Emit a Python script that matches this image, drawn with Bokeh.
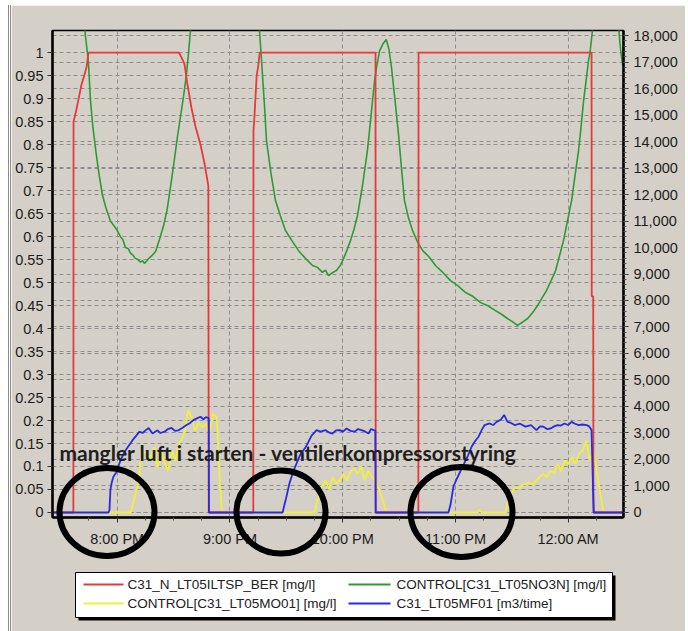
from bokeh.plotting import figure
from bokeh.models import (Range1d, LinearAxis, FixedTicker, NumeralTickFormatter, Grid)
from bokeh.core.properties import value
from bokeh.embed import file_html
from bokeh.resources import INLINE

# ---------------- data (time in minutes after 7:00 PM) ----------------
x_ticks = [60, 120, 180, 240, 300]
x_tick_labels = ["8:00 PM", "9:00 PM", "10:00 PM", "11:00 PM", "12:00 AM"]
x_minor = [30, 45, 75, 90, 105, 135, 150, 165, 195, 210, 225, 255, 270, 285, 315]
left_ticks = [0, 0.05, 0.1, 0.15, 0.2, 0.25, 0.3, 0.35, 0.4, 0.45, 0.5, 0.55,
              0.6, 0.65, 0.7, 0.75, 0.8, 0.85, 0.9, 0.95, 1]
right_ticks = [0, 1000, 2000, 3000, 4000, 5000, 6000, 7000, 8000, 9000, 10000,
               11000, 12000, 13000, 14000, 15000, 16000, 17000, 18000]

# C31_N_LT05ILTSP_BER [mg/l]  (left axis)
red_t = [25.6, 36.7, 36.8, 38.0, 39.5, 41.0, 42.5, 43.8, 44.7, 92.9, 94.7, 95.8,
         97.4, 99.5, 101.6, 104.3, 106.4, 108.5, 108.7, 132.4, 132.5, 133.0, 134.2,
         135.0, 135.8, 197.4, 197.5, 220.2, 220.3, 312.3, 312.4, 313.2, 313.3, 313.5, 329.3]
red_v = [0, 0, 0.85, 0.87, 0.90, 0.93, 0.95, 0.97, 1.0, 1.0, 0.985, 0.975,
         0.93, 0.88, 0.84, 0.80, 0.76, 0.71, 0, 0, 0.83, 0.86, 0.95,
         0.97, 1.0, 1.0, 0, 0, 1.0, 1.0, 0.47, 0.47, 0.05, 0, 0]

# CONTROL[C31_LT05NO3N] [mg/l]  (right axis)
green_t = [42.0, 43.1, 44.7, 45.8, 47.0, 48.9, 50.5, 52.1, 54.0, 56.4, 58.5, 60.0, 61.8,
           63.0, 64.4, 66.0, 67.0, 68.5, 69.5, 71.0, 72.4, 73.5, 74.5, 75.8, 77.0, 78.6,
           80.4, 82.5, 84.6, 86.5, 88.4, 90.2, 92.1, 93.8, 95.3, 96.8, 97.9, 99.0, 100.0,
           118.0,
           135.2, 135.7, 137.3, 138.4, 139.4, 141.8, 144.2, 146.8, 149.5, 153.0, 156.4,
           160.0, 163.9, 166.5, 169.2, 170.8, 172.4, 174.5, 176.6, 178.5, 180.4, 182.2,
           184.1, 186.0, 187.8, 189.2, 190.5, 191.8, 193.1, 194.2, 195.3, 196.9, 198.2,
           199.6, 201.5, 203.1, 204.5, 205.9, 207.8, 209.6, 211.2, 212.8, 215.0, 217.1,
           219.8, 222.4, 225.8, 229.3, 233.3, 237.3, 241.3, 245.3, 249.3, 253.3, 257.2,
           261.2, 264.4, 267.6, 270.2, 272.9, 275.6, 278.3, 281.0, 283.6, 286.0, 288.4,
           290.8, 293.2, 295.3, 297.4, 299.5, 301.7, 303.5, 305.4, 306.8, 308.1, 309.4,
           310.7, 311.5, 312.8, 313.5,
           320.0,
           326.2, 326.7, 327.7, 328.8, 329.3]
green_v = [19000, 18000, 17000, 15550, 14600, 13500, 12700, 12000, 11500, 11000, 10800, 10650, 10400,
           10300, 10000, 9950, 9800, 9700, 9600, 9550, 9450, 9500, 9400, 9500, 9600, 9700,
           9850, 10300, 10800, 11400, 12300, 13200, 14200, 15000, 15700, 16500, 17300, 18200, 19200,
           24000,
           19500, 18200, 16500, 15300, 14040, 12800, 11770, 11200, 10640, 10250, 9890,
           9600, 9320, 9250, 9060, 9150, 8940, 9050, 9130, 9300, 9580, 9900,
           10260, 10700, 11200, 11800, 12340, 13000, 13660, 14400, 15170, 16300, 16900,
           17430, 17700, 17850, 17500, 16800, 15550, 14300, 13000, 11770, 11100, 10640,
           10200, 9890, 9650, 9320, 9050, 8750, 8550, 8300, 8150, 7920, 7800,
           7620, 7480, 7320, 7200, 7060, 7180, 7320, 7550, 7810, 8100, 8380,
           8750, 9130, 9700, 10260, 11000, 11770, 12700, 13660, 14600, 15550, 16300,
           17060, 17360, 18200, 19000,
           23000,
           19000, 18300, 17500, 16900, 16800]

# CONTROL[C31_LT05MO01] [mg/l]  (left axis)
yellow_t = [25.6, 67.3, 69.1, 71.1, 73.0, 74.8, 77.7, 79.6, 81.5, 83.4, 85.3, 87.2, 89.1,
            91.0, 92.9, 95.7, 97.7, 99.6, 101.4, 103.4, 105.3, 107.2, 109.0, 111.0, 112.9,
            113.8, 114.7, 115.7,
            165.1, 166.1, 168.9, 170.8, 172.7, 174.6, 176.5, 178.4, 180.3, 182.2, 184.1,
            186.0, 187.9, 189.8, 191.7, 193.6, 195.5, 197.4, 199.3, 201.2, 203.1,
            251.5, 252.7, 253.9,
            266.5, 267.6, 269.6, 271.5, 273.4, 275.3, 277.2, 279.1, 281.0, 282.9, 284.8,
            286.7, 288.6, 290.5, 292.4, 294.3, 296.2, 298.1, 300.0, 301.9, 303.8, 305.7,
            307.6, 309.5, 311.4, 313.3, 315.0, 316.6, 318.7, 329.3]
yellow_v = [0, 0, 0.03, 0.062, 0.131, 0.131, 0.120, 0.142, 0.098, 0.131, 0.106, 0.091, 0.135,
            0.113, 0.149, 0.171, 0.222, 0.207, 0.178, 0.196, 0.185, 0.193, 0.171, 0.215, 0.207,
            0.135, 0.062, 0,
            0, 0.02, 0.057, 0.07, 0.05, 0.077, 0.063, 0.07, 0.084, 0.07, 0.088,
            0.097, 0.084, 0.10, 0.07, 0.091, 0.077, 0.07, 0.049, 0.027, 0,
            0, 0.006, 0,
            0, 0.02, 0.041, 0.055, 0.052, 0.059, 0.062, 0.066, 0.060, 0.070, 0.078,
            0.084, 0.077, 0.091, 0.085, 0.106, 0.091, 0.113, 0.105, 0.120, 0.106, 0.128,
            0.135, 0.156, 0.113, 0.135, 0.09, 0.05, 0, 0]

# C31_LT05MF01 [m3/time]  (right axis)
blue_t = [25.6, 55.4,
          55.9, 56.4, 57.0, 58.0, 59.6, 61.8, 64.4, 68.1, 71.9, 73.5, 75.1, 76.7, 78.8, 81.4,
          83.0, 85.2, 87.0, 88.9, 90.8, 92.6, 94.8, 96.9, 98.8, 100.6, 102.4, 104.3, 105.9,
          107.2, 108.7,
          108.8, 148.0,
          149.0, 149.8, 151.6, 153.5, 155.4, 157.5, 160.2, 163.4, 166.1, 168.2, 170.8, 172.6,
          174.5, 176.4, 178.3, 180.1, 182.0, 184.1, 186.2, 188.1, 190.0, 191.8, 193.7, 195.0,
          196.4, 197.3,
          197.5, 236.2,
          237.3, 238.9, 240.5, 242.1, 244.7, 246.6, 248.5, 250.4, 252.2, 253.8, 255.4, 258.1,
          260.0, 261.8, 264.0, 265.8, 267.6, 269.5, 271.4, 274.3, 277.2, 280.1, 283.0, 284.9,
          286.7, 288.6, 290.5, 292.4, 294.2, 296.0, 297.9, 299.8, 301.7, 303.5, 305.4, 307.5,
          309.7, 311.0, 312.3, 312.8,
          313.4, 329.3]
blue_v = [0, 0,
          100, 850, 1100, 1350, 1520, 1980, 2340, 2720, 3050, 3000, 3100, 3190, 2980, 3100,
          3000, 3050, 3150, 3190, 3080, 3100, 3200, 3300, 3380, 3490, 3550, 3615, 3520,
          3600, 3560,
          0, 0,
          300, 530, 1090, 1520, 1850, 2200, 2460, 2900, 3110, 3050, 3110, 3020,
          2980, 3100, 3110, 3050, 3170, 3080, 3050, 3150, 3110, 3060, 2980, 3150,
          3110, 3100,
          0, 0,
          300, 990, 1250, 1490, 1870, 2150, 2480, 2700, 2860, 3100, 3300, 3360,
          3300, 3420, 3500, 3680, 3420, 3380, 3300, 3350, 3240, 3300, 3110, 3250,
          3240, 3150, 3170, 3250, 3300, 3280, 3360, 3300, 3420, 3350, 3300, 3320,
          3300, 3250, 3110, 1700,
          0, 0]

series_labels = ["C31_N_LT05ILTSP_BER [mg/l]", "CONTROL[C31_LT05NO3N] [mg/l]",
                 "CONTROL[C31_LT05MO01] [mg/l]", "C31_LT05MF01 [m3/time]"]
annotation_text = "mangler luft i starten - ventilerkompressorstyring"

# ---------------- styling / layout ----------------
BG = "#d4d0c8"
GRID = "#8e8e8e"
RED, GREEN, YELLOW, BLUE = "#e43a3a", "#2f9a35", "#f0f03c", "#2a2ae0"
TICK_FONT = "Liberation Sans"

X0, X1 = 25.6, 329.3          # x range (minutes)
Y0, Y1 = -0.0109, 1.048       # left range
R0, R1 = -189, 18189          # right range
# frame position on the page (pixels) – used to place the legend outside the frame
FL, FR, FT, FB = 52, 623, 30, 517


def px_x(px):
    return X0 + (px - FL) * (X1 - X0) / (FR - FL)


def px_y(py):
    return Y1 - (py - FT) * (Y1 - Y0) / (FB - FT)


p = figure(width=677, height=626, output_backend="svg", toolbar_location=None,
           x_range=Range1d(X0, X1), y_range=Range1d(Y0, Y1),
           min_border_left=41, min_border_right=65, min_border_top=25, min_border_bottom=114,
           background_fill_color=BG, border_fill_color=BG,
           outline_line_color="black", outline_line_width=1.5)
p.extra_y_ranges = {"right": Range1d(R0, R1)}

# axes
xa = p.xaxis[0]
xa.ticker = FixedTicker(ticks=x_ticks, minor_ticks=x_minor)
xa.major_label_overrides = {t: l for t, l in zip(x_ticks, x_tick_labels)}
ya = p.yaxis[0]
ya.ticker = FixedTicker(ticks=left_ticks)
ya.formatter = NumeralTickFormatter(format="0.[00]")
ra = LinearAxis(y_range_name="right", ticker=FixedTicker(ticks=right_ticks,
                minor_ticks=list(range(0, 18200, 200))),
                formatter=NumeralTickFormatter(format="0,0"))
p.add_layout(ra, "right")

for ax in (xa, ya, ra):
    ax.axis_line_color = "black"
    ax.axis_line_width = 2.5
    ax.major_tick_line_color = "#333333"
    ax.minor_tick_line_color = "#555555"
    ax.major_tick_in = 0
    ax.minor_tick_in = 0
    ax.major_tick_out = 5
    ax.minor_tick_out = 3
    ax.major_label_text_font = TICK_FONT
    ax.major_label_text_font_size = "14.5px"
    ax.major_label_text_color = "#1c1c1c"
ya.minor_tick_line_color = None
xa.major_label_standoff = 8
ya.major_label_standoff = 4
ra.major_label_standoff = 5

# grids
p.xgrid.ticker = FixedTicker(ticks=x_ticks)
for g in (p.xgrid[0], p.ygrid[0]):
    g.grid_line_color = GRID
    g.grid_line_dash = "4 3"
    g.grid_line_width = 1
p.ygrid[0].ticker = FixedTicker(ticks=left_ticks)
rg = Grid(dimension=1, y_range_name="right", ticker=FixedTicker(ticks=right_ticks),
          grid_line_color=GRID, grid_line_dash="4 3", grid_line_width=1)
p.add_layout(rg)

# series
p.line(yellow_t, yellow_v, line_color=YELLOW, line_width=1.8)
p.line(green_t, green_v, y_range_name="right", line_color=GREEN, line_width=1.6)
p.line(red_t, red_v, line_color=RED, line_width=1.8)
p.line(blue_t, blue_v, y_range_name="right", line_color=BLUE, line_width=1.8)

# annotation text
p.text(x=[px_x(59)], y=[px_y(452)], text=[annotation_text], text_font=value("Lato"),
       text_font_style="bold", text_font_size="21px", text_color="#1e1e1e",
       text_baseline="alphabetic", text_align="left")

# hand-drawn circles marking the starts
p.ellipse(x=[px_x(106.5), px_x(280.5), px_x(461)], y=[px_y(511.5)] * 3,
          width=[95, 89, 102], height=[88, 83, 90],
          width_units="screen", height_units="screen",
          fill_alpha=0, line_color="black", line_width=6, level="overlay")

# legend box below the axis (drawn at overlay level so it is not clipped)
LB_L, LB_R, LB_T, LB_B = 75, 612, 572, 617
p.quad(left=[px_x(LB_L + 3)], right=[px_x(LB_R + 3)], top=[px_y(LB_T + 3)],
       bottom=[px_y(LB_B + 3)], fill_color="black", line_color=None, level="overlay")
p.quad(left=[px_x(LB_L)], right=[px_x(LB_R)], top=[px_y(LB_T)], bottom=[px_y(LB_B)],
       fill_color="white", line_color="black", line_width=1, level="overlay")
row_y = [584, 603]
col_x = [(83, 123, 127), (348, 390, 396)]
leg_colors = [RED, GREEN, YELLOW, BLUE]
for i, (lab, col) in enumerate(zip(series_labels, leg_colors)):
    r, c = divmod(i, 2)
    g0, g1, tx = col_x[c]
    yy = px_y(row_y[r])
    p.segment(x0=[px_x(g0)], x1=[px_x(g1)], y0=[yy], y1=[yy], line_color=col,
              line_width=2, level="overlay")
    p.text(x=[px_x(tx)], y=[yy], text=[lab], text_font=value(TICK_FONT),
           text_font_size="13.5px", text_color="#222222", text_baseline="middle",
           text_align="left", level="overlay")

p.styles = {"border-left": "3px double #8c8c8c"}
p.margin = (5, 0, 0, 8)

open("out.html", "w").write(file_html(p, INLINE))
